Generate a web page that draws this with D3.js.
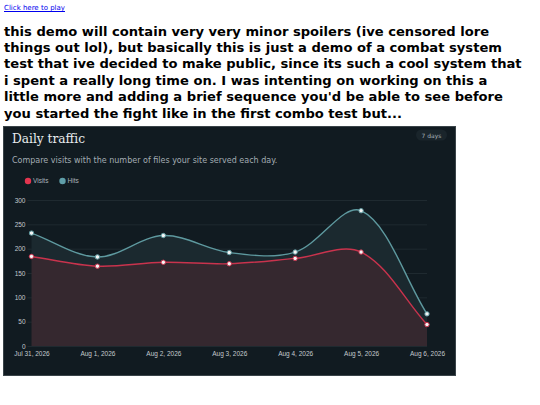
<!DOCTYPE html>
<html><head><meta charset="utf-8">
<script src="https://cdn.jsdelivr.net/npm/d3@7"></script>
<style>
html,body{margin:0;padding:0;background:#fff;width:540px;height:405px;overflow:hidden}
#link{position:absolute;left:4px;top:4px;font:7px "DejaVu Sans",Verdana,sans-serif;color:#0000ee;text-decoration:underline}
#para{position:absolute;left:4px;top:23.5px;margin:0;font:bold 13.1px/16.4px "DejaVu Sans",Verdana,sans-serif;color:#000;white-space:nowrap}
svg{position:absolute;left:0;top:0}
</style></head><body>
<div id="link">Click here to play</div>
<p id="para">this demo will contain very very minor spoilers (ive censored lore<br>things out lol), but basically this is just a demo of a combat system<br>test that ive decided to make public, since its such a cool system that<br>i spent a really long time on. I was intenting on working on this a<br>little more and adding a brief sequence you'd be able to see before<br>you started the fight like in the first combo test but...</p>
<svg id="chart" width="540" height="405"></svg>
<script>
const categories = ["Jul 31, 2026","Aug 1, 2026","Aug 2, 2026","Aug 3, 2026","Aug 4, 2026","Aug 5, 2026","Aug 6, 2026"];
const visits = [184, 164, 172, 169, 180, 193, 44];
const hits = [232, 183, 227, 192, 193, 278, 66];
const yTicks = [0, 50, 100, 150, 200, 250, 300];
const seriesNames = ["Visits", "Hits"];

// Chart.js-style bezier spline
function ChartJsCurve(context){ this._context = context; }
ChartJsCurve.prototype = {
  areaStart(){ this._line = 0; },
  areaEnd(){ this._line = NaN; },
  lineStart(){ this._x = []; this._y = []; },
  point(x, y){ this._x.push(+x); this._y.push(+y); },
  lineEnd(){
    const x = this._x, y = this._y, n = x.length, c = this._context, t = 0.34;
    if (n) {
      this._line ? c.lineTo(x[0], y[0]) : c.moveTo(x[0], y[0]);
      if (n === 2) c.lineTo(x[1], y[1]);
      else if (n > 2) {
        const cp = [];
        for (let i = 0; i < n; i++) {
          const pi = i === 0 ? i : i - 1, ni = i === n - 1 ? i : i + 1;
          const d01 = Math.hypot(x[i] - x[pi], y[i] - y[pi]);
          const d12 = Math.hypot(x[ni] - x[i], y[ni] - y[i]);
          let s01 = d01 / (d01 + d12), s12 = d12 / (d01 + d12);
          if (isNaN(s01)) s01 = 0; if (isNaN(s12)) s12 = 0;
          const fa = t * s01, fb = t * s12;
          cp.push({
            px: x[i] - fa * (x[ni] - x[pi]), py: y[i] - fa * (y[ni] - y[pi]),
            nx: x[i] + fb * (x[ni] - x[pi]), ny: y[i] + fb * (y[ni] - y[pi])
          });
        }
        for (let i = 0; i < n - 1; i++) {
          c.bezierCurveTo(cp[i].nx, cp[i].ny, cp[i+1].px, cp[i+1].py, x[i+1], y[i+1]);
        }
      }
    }
    if (this._line || (this._line !== 0 && n === 1)) c.closePath();
    this._line = 1 - this._line;
    this._x = this._y = null;
  }
};
const chartCurve = ctx => new ChartJsCurve(ctx);

const svg = d3.select("#chart");
const sans = "'Liberation Sans', Arial, Helvetica, sans-serif";

// panel
svg.append("rect").attr("x", 3.5).attr("y", 126.5).attr("width", 452).attr("height", 249)
  .attr("fill", "#111b21").attr("stroke", "#3a4449").attr("stroke-width", 1);

svg.append("text").attr("x", 12).attr("y", 142.5).text("Daily traffic")
  .attr("font-family", "'DejaVu Serif', Georgia, serif").attr("font-size", 12.2).attr("fill", "#e8ecee");
svg.append("text").attr("x", 12).attr("y", 162.5).text("Compare visits with the number of files your site served each day.")
  .attr("font-family", "'DejaVu Sans', Verdana, sans-serif").attr("font-size", 8).attr("fill", "#a3adb3");

svg.append("rect").attr("x", 416).attr("y", 129.5).attr("width", 31).attr("height", 11).attr("rx", 5.5)
  .attr("fill", "#1a252b");
svg.append("text").attr("x", 431.5).attr("y", 137.5).attr("text-anchor", "middle").text("7 days")
  .attr("font-family", "'DejaVu Sans', Verdana, sans-serif").attr("font-size", 6).attr("fill", "#a9b3b9");

const colors = { line: ["#c9334d", "#5e999f"], fill: ["#35282f", "#1b292f"] };

// legend
const legX = [28, 62.5];
seriesNames.forEach((name, i) => {
  svg.append("circle").attr("cx", legX[i]).attr("cy", 181).attr("r", 3.2)
    .attr("fill", i === 0 ? "#e3354f" : "#5f9ea8");
  svg.append("text").attr("x", legX[i] + 5).attr("y", 183.3).text(name)
    .attr("font-family", sans).attr("font-size", 6.5).attr("fill", "#a9b3b9");
});

const x = d3.scalePoint().domain(categories).range([31.5, 427]);
const y = d3.scaleLinear().domain([0, 300]).range([346, 200]);

// grid
const g = svg.append("g");
g.selectAll("line.grid").data(yTicks).join("line").attr("class", "grid")
  .attr("x1", 27.5).attr("x2", 427).attr("y1", d => y(d) + 0.5).attr("y2", d => y(d) + 0.5)
  .attr("stroke", "#1f2a30").attr("stroke-width", 1);

// y axis labels
const yAxis = d3.axisLeft(y).tickValues(yTicks).tickSize(0).tickPadding(0);
const ya = svg.append("g").attr("transform", "translate(25.5,0)").call(yAxis);
ya.select(".domain").remove();
ya.selectAll("text").attr("font-family", sans).attr("font-size", 6.5).attr("fill", "#c3c9cd");

// x axis labels
const xAxis = d3.axisBottom(x).tickSize(0).tickPadding(0);
const xa = svg.append("g").attr("transform", "translate(0,351)").call(xAxis);
xa.select(".domain").remove();
xa.selectAll("text").attr("font-family", sans).attr("font-size", 6.5).attr("fill", "#c3c9cd");

const idx = d3.range(categories.length);
// hits fill between hits and visits
svg.append("path").attr("d", d3.area().curve(chartCurve)
  .x(i => x(categories[i])).y1(i => y(hits[i])).y0(i => y(visits[i]))(idx))
  .attr("fill", colors.fill[1]);
// visits fill to origin
svg.append("path").attr("d", d3.area().curve(chartCurve)
  .x(i => x(categories[i])).y1(i => y(visits[i])).y0(y(0))(idx))
  .attr("fill", colors.fill[0]);

[visits, hits].forEach((vals, s) => {
  svg.append("path").attr("d", d3.line().curve(chartCurve)
    .x(i => x(categories[i])).y(i => y(vals[i]))(idx))
    .attr("fill", "none").attr("stroke", colors.line[s]).attr("stroke-width", 1.4);
});
[visits, hits].forEach((vals, s) => {
  svg.append("g").selectAll("circle").data(idx).join("circle")
    .attr("cx", i => x(categories[i])).attr("cy", i => y(vals[i])).attr("r", 2.2)
    .attr("fill", "#f4f4f4").attr("stroke", colors.line[s]).attr("stroke-width", 1);
});
</script>
</body></html>
